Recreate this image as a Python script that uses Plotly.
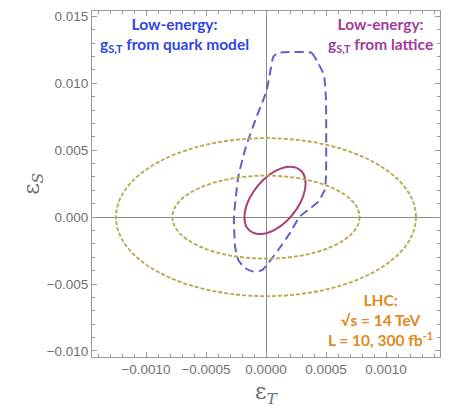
import plotly.graph_objects as go

# LHC ellipses (axis-aligned): semi-axes
lhc_outer = dict(x0=-0.00125, x1=0.00125, y0=-0.0059, y1=0.0059)
lhc_inner = dict(x0=-0.00078, x1=0.00078, y0=-0.0031, y1=0.0031)

# Lattice contour (solid, magenta)
lat_x = [0.00033, 0.000311, 0.000255, 0.000173, 0.000075, -0.000023, -0.000105, -0.000161,
         -0.00018, -0.000161, -0.000105, -0.000023, 0.000075, 0.000173, 0.000255, 0.000311, 0.00033]
lat_y = [0.00251, 0.00158, 0.0006, -0.000285, -0.00093, -0.00125, -0.00118, -0.00075,
         -0.00001, 0.00092, 0.0019, 0.00278, 0.00343, 0.00375, 0.00368, 0.00325, 0.00251]

# Quark-model contour (dashed, blue)
qm_x = [0.0001, 0.00038, 0.000436, 0.000483, 0.0005, 0.0005, 0.00049, 0.000436, 0.000353,
        0.00028, 0.0002, 0.000103, 0.000019, -0.000036, -0.000106, -0.000175, -0.000231,
        -0.000258, -0.000267, -0.000231, -0.000175, -0.000148, -0.000078, -0.000023,
        0.000006, 0.000033, 0.000061, 0.0001]
qm_y = [0.01228, 0.01228, 0.01149, 0.01061, 0.00875, 0.00303, 0.00204, 0.00116, 0.00054,
        0.00004, -0.00119, -0.00244, -0.00343, -0.00398, -0.00406, -0.00381, -0.00319,
        -0.00219, 0.00004, 0.00303, 0.00502, 0.00577, 0.00751, 0.00875,
        0.0095, 0.01075, 0.01199, 0.01228]

x_ticks = [-0.001, -0.0005, 0.0, 0.0005, 0.001]
x_ticklabels = ["\u22120.0010", "\u22120.0005", "0.0000", "0.0005", "0.0010"]
y_ticks = [-0.010, -0.005, 0.0, 0.005, 0.010, 0.015]
y_ticklabels = ["\u22120.010", "\u22120.005", "0.000", "0.005", "0.010", "0.015"]

LHC_COL = "#b9a74c"
QM_COL = "#6060c8"
LAT_COL = "#ab3f74"

fig = go.Figure()
fig.add_trace(go.Scatter(x=qm_x, y=qm_y, mode="lines",
                         line=dict(color=QM_COL, width=2, dash="9px,5px", shape="spline", smoothing=0.4),
                         hoverinfo="skip", showlegend=False))
fig.add_trace(go.Scatter(x=lat_x, y=lat_y, mode="lines",
                         line=dict(color=LAT_COL, width=2, shape="spline", smoothing=1.0),
                         hoverinfo="skip", showlegend=False))

for e in (lhc_outer, lhc_inner):
    fig.add_shape(type="circle", xref="x", yref="y", **e,
                  line=dict(color=LHC_COL, width=1.8, dash="4px,2px"), layer="above")

axis_common = dict(showgrid=False, zeroline=True, zerolinecolor="#8a8a8a", zerolinewidth=1,
                   showline=True, linecolor="#9a9a9a", linewidth=1, mirror="allticks",
                   ticks="inside", ticklen=5, tickcolor="#9a9a9a", automargin=False,
                   tickfont=dict(family="Liberation Sans, Arial", size=13.5, color="#707070"))

fig.update_xaxes(range=[-0.00145, 0.00145], tickvals=x_ticks, ticktext=x_ticklabels,
                 minor=dict(dtick=0.0001, ticks="inside", ticklen=3, tickcolor="#9a9a9a", showgrid=False),
                 **axis_common)
fig.update_yaxes(range=[-0.01045, 0.0154], tickvals=y_ticks, ticktext=y_ticklabels,
                 minor=dict(dtick=0.001, ticks="inside", ticklen=3, tickcolor="#9a9a9a", showgrid=False),
                 **axis_common)

# axis titles
fig.add_annotation(x=0.5, y=-0.105, xref="paper", yref="paper", xanchor="center", yanchor="middle",
                   text="\u03b5<sub><i>T</i></sub>", showarrow=False,
                   font=dict(family="DejaVu Serif", size=22, color="#6e6e6e"))
fig.add_annotation(x=-0.17, y=0.5, xref="paper", yref="paper", xanchor="center", yanchor="middle",
                   text="\u03b5<sub><i>S</i></sub>", showarrow=False, textangle=-90,
                   font=dict(family="DejaVu Serif", size=22, color="#6e6e6e"))

ann_font = "Lato"
fig.add_annotation(x=0.2385, y=0.995, xref="paper", yref="paper", xanchor="center", yanchor="top",
                   text="<b>Low-energy:</b><br><b>g<sub>S,T</sub> from quark model</b>", showarrow=False,
                   font=dict(family=ann_font, size=15.5, color="#2f46e0"), align="center")
fig.add_annotation(x=0.985, y=0.995, xref="paper", yref="paper", xanchor="right", yanchor="top",
                   text="<b>Low-energy:</b><br><b>g<sub>S,T</sub> from lattice</b>", showarrow=False,
                   font=dict(family=ann_font, size=15.5, color="#a23c98"), align="center")
fig.add_annotation(x=0.828, y=0.107, xref="paper", yref="paper", xanchor="center", yanchor="middle",
                   text="<b>LHC:</b><br><b>\u221as = 14 TeV</b><br><b>L = 10, 300 fb<sup>-1</sup></b>",
                   showarrow=False, font=dict(family=ann_font, size=15.5, color="#e08a22"), align="center")

# page body adds an 8px offset; compensate in the margins
fig.update_layout(width=450, height=406, margin=dict(l=84, r=18, t=3, b=57),
                  plot_bgcolor="white", paper_bgcolor="white")

fig.write_html("out.html")
